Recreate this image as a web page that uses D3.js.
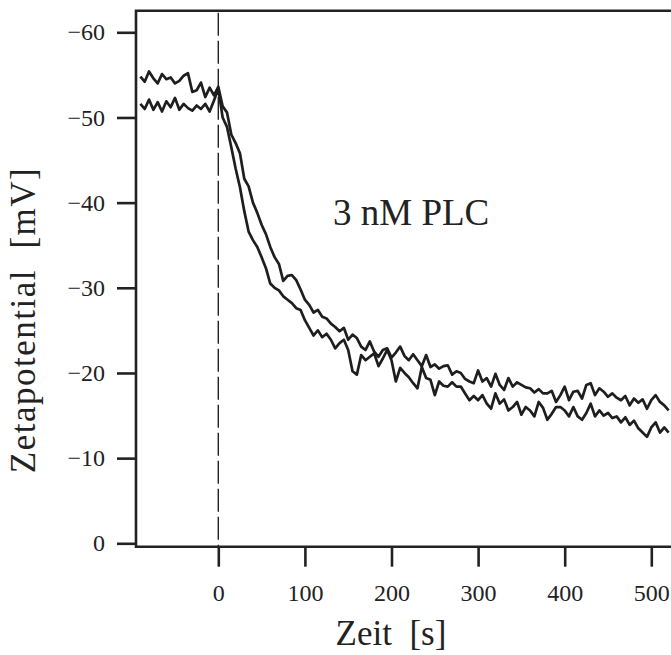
<!DOCTYPE html>
<html>
<head>
  <meta charset="utf-8">
  <script src="https://d3js.org/d3.v7.min.js"></script>
  <style>
    body { margin: 0; background: #fff; }
    text { font-family: "Liberation Serif", "Times New Roman", serif; fill: #222; }
    .trace { fill: none; stroke: #1e1e1e; stroke-width: 2.7; stroke-linejoin: round; }
  </style>
</head>
<body>
  <svg id="chart" width="671" height="655"></svg>
  <script>
    const svg = d3.select("#chart");

    // Zeitachse in s (Messpunkte alle 5 s)
    const zeit = d3.range(-90, 521, 5);

    // Messreihe 1 (vor Zugabe oben)
    const reihe1 = [
      -54.8, -54.2, -55.4, -54.6, -54.0, -55.1, -54.5, -54.7, -54.0, -54.3,
      -54.9, -55.2, -53.0, -53.2, -54.1, -52.4, -53.5, -52.6, -53.6, -51.3,
      -50.6, -48.0, -47.0, -45.8, -42.8, -41.9, -40.0, -38.8, -37.4, -36.3,
      -34.8, -33.6, -32.8, -30.8, -31.4, -31.5, -30.9, -29.8, -28.6, -28.0,
      -27.1, -27.4, -26.6, -26.4, -25.8, -25.4, -24.9, -25.3, -23.9, -24.5,
      -24.1, -23.1, -22.7, -23.7, -22.5, -21.9, -22.7, -22.9, -21.8, -22.4,
      -23.1, -22.0, -21.5, -22.2, -21.5, -20.8, -22.1, -20.7, -21.0, -20.5,
      -20.8, -20.9, -19.8, -20.2, -20.0, -19.3, -19.0, -18.8, -20.3, -19.0,
      -19.4, -18.4, -19.9, -18.6, -18.0, -19.4, -18.4, -18.9, -18.6, -18.3,
      -18.2, -17.7, -18.1, -17.6, -17.6, -17.9, -16.6, -17.4, -18.4, -16.8,
      -17.8, -17.9, -17.0, -18.6, -18.8, -17.4, -18.2, -17.8, -17.2, -17.6,
      -17.1, -16.8, -17.3, -16.2, -17.0, -16.5, -16.9, -15.8, -16.8, -17.4,
      -16.6, -16.2, -15.6
    ];

    // Messreihe 2 (vor Zugabe unten)
    const reihe2 = [
      -51.6, -51.0, -52.1, -50.9, -51.8, -50.7, -51.9, -51.2, -52.3, -50.9,
      -51.6, -51.1, -50.8, -51.4, -51.0, -51.6, -50.7, -52.0, -53.4, -50.0,
      -48.9, -46.5, -44.0, -41.8, -39.0, -36.6, -35.6, -34.8, -33.6, -32.3,
      -30.5, -30.0, -29.7, -29.0, -28.6, -28.2, -27.6, -27.4, -26.2, -25.3,
      -24.4, -25.0, -24.2, -24.6, -23.9, -22.9, -23.5, -23.9, -22.7, -20.2,
      -19.8, -22.1, -21.5, -21.9, -22.3, -20.8, -21.7, -22.7, -21.5, -19.0,
      -20.6, -20.0, -19.5, -18.8, -18.2, -20.7, -19.4, -19.2, -17.4, -19.0,
      -18.5, -18.4, -18.9, -18.4, -18.4, -17.6, -16.8, -17.3, -16.8, -17.4,
      -16.4, -15.8, -17.6, -16.4, -16.9, -15.6, -16.0, -16.6, -15.1, -16.0,
      -15.6, -14.9, -16.6, -15.9, -14.5, -15.2, -16.0, -16.0, -15.6, -14.9,
      -16.0, -14.9, -14.5, -15.3, -16.4, -14.9, -15.6, -15.0, -15.3, -14.7,
      -14.9, -14.2, -14.8, -13.9, -14.4, -13.5, -13.0, -12.5, -13.6, -14.2,
      -13.0, -13.6, -13.0
    ];

    const xTicks = [0, 100, 200, 300, 400, 500];
    const yTicks = [0, -10, -20, -30, -40, -50, -60];

    // Skalen
    const x = d3.scaleLinear().domain([0, 500]).range([218.3, 651.3]);
    const y = d3.scaleLinear().domain([0, -60]).range([543.3, 32.3]);

    const frameL = 136, frameT = 10.7, frameB = 546.7, frameR = 671;
    const serif = '"Liberation Serif", "Times New Roman", serif';

    // Rahmen (links, oben, unten)
    svg.append("path")
      .attr("d", `M${frameR},${frameT} H${frameL} V${frameB} H${frameR}`)
      .attr("fill", "none")
      .attr("stroke", "#222")
      .attr("stroke-width", 2.6);

    // gestrichelte Linie bei t = 0
    svg.append("line")
      .attr("x1", x(0)).attr("x2", x(0))
      .attr("y1", frameT + 2).attr("y2", frameB)
      .attr("stroke", "#222")
      .attr("stroke-width", 1.4)
      .attr("stroke-dasharray", "23,5");

    // y-Achse
    const yAxis = svg.append("g")
      .attr("transform", `translate(${frameL},0)`)
      .call(d3.axisLeft(y).tickValues(yTicks).tickSize(19).tickPadding(12)
        .tickFormat(d => d === 0 ? "0" : "\u2212" + Math.abs(d)));
    yAxis.select(".domain").remove();
    yAxis.selectAll(".tick line").attr("stroke", "#222").attr("stroke-width", 2.6);
    yAxis.selectAll(".tick text")
      .style("font-family", serif).style("font-size", "24px").style("fill", "#222");

    // x-Achse
    const xAxis = svg.append("g")
      .attr("transform", `translate(0,${frameB})`)
      .call(d3.axisBottom(x).tickValues(xTicks).tickSize(20).tickPadding(17));
    xAxis.select(".domain").remove();
    xAxis.selectAll(".tick line").attr("stroke", "#222").attr("stroke-width", 2.6);
    xAxis.selectAll(".tick text")
      .style("font-family", serif).style("font-size", "24px").style("fill", "#222");

    // Messkurven
    const line = d3.line().x((d, i) => x(zeit[i])).y(d => y(d));
    [reihe1, reihe2].forEach(r => {
      svg.append("path").datum(r).attr("class", "trace").attr("d", line);
    });

    // Beschriftungen
    svg.append("text")
      .attr("x", 333).attr("y", 225)
      .style("font-size", "37px")
      .text("3 nM PLC");

    svg.append("text")
      .attr("x", 391).attr("y", 645)
      .attr("text-anchor", "middle")
      .style("font-size", "35px")
      .attr("xml:space", "preserve")
      .text("Zeit  [s]");

    svg.append("text")
      .attr("transform", "translate(35,320) rotate(-90)")
      .attr("text-anchor", "middle")
      .style("font-size", "35px")
      .style("letter-spacing", "1.5px")
      .attr("xml:space", "preserve")
      .text("Zetapotential  [mV]");
  </script>
</body>
</html>
